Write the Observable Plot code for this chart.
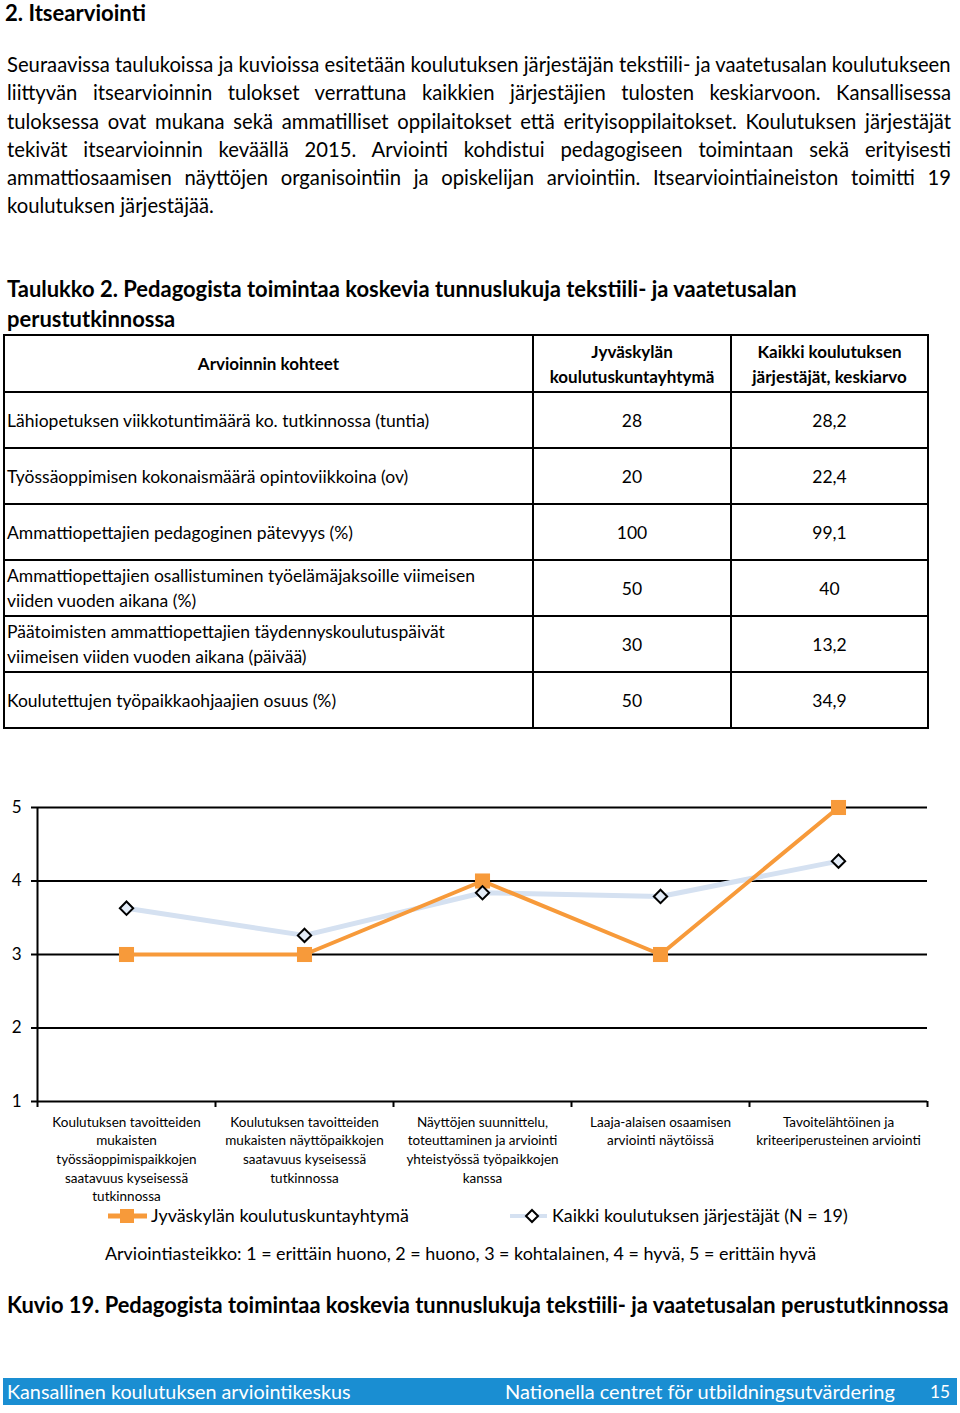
<!DOCTYPE html>
<html><head><meta charset="utf-8">
<script src="https://cdn.jsdelivr.net/npm/d3@7"></script>
<script src="https://cdn.jsdelivr.net/npm/@observablehq/plot@0.6"></script>
<style>
body{margin:0;background:#fff;}
#page{position:relative;width:960px;height:1413px;font-family:Lato,"Open Sans",sans-serif;color:#000;overflow:hidden;background:#fff;}
.t{position:absolute;white-space:nowrap;}
table{position:absolute;left:3px;top:334px;width:924px;border-collapse:collapse;table-layout:fixed;font-size:17.5px;}
td{border:2px solid #000;padding:0 2px;line-height:25px;vertical-align:middle;}
td.c{text-align:center;}
th{border:2px solid #000;font-weight:bold;text-align:center;line-height:25px;font-size:17px;}
#chart{position:absolute;left:0;top:790px;}
#footer{position:absolute;left:3px;top:1378px;width:954px;height:27px;background:#1a8ed2;}
</style></head><body><div id="page"></div>
<script>
// ---------- data ----------
const heading = "2. Itsearviointi";
const paragraphLines = [
  "Seuraavissa taulukoissa ja kuvioissa esitetään koulutuksen järjestäjän tekstiili- ja vaatetusalan koulutukseen",
  "liittyvän itsearvioinnin tulokset verrattuna kaikkien järjestäjien tulosten keskiarvoon. Kansallisessa",
  "tuloksessa ovat mukana sekä ammatilliset oppilaitokset että erityisoppilaitokset. Koulutuksen järjestäjät",
  "tekivät itsearvioinnin keväällä 2015. Arviointi kohdistui pedagogiseen toimintaan sekä erityisesti",
  "ammattiosaamisen näyttöjen organisointiin ja opiskelijan arviointiin. Itsearviointiaineiston toimitti 19",
  "koulutuksen järjestäjää."
];
const tableTitleLines = ["Taulukko 2. Pedagogista toimintaa koskevia tunnuslukuja tekstiili- ja vaatetusalan", "perustutkinnossa"];
const tableHeader = ["Arvioinnin kohteet", "Jyväskylän\nkoulutuskuntayhtymä", "Kaikki koulutuksen\njärjestäjät, keskiarvo"];
const tableItems = [
  "Lähiopetuksen viikkotuntimäärä ko. tutkinnossa (tuntia)",
  "Työssäoppimisen kokonaismäärä opintoviikkoina (ov)",
  "Ammattiopettajien pedagoginen pätevyys (%)",
  "Ammattiopettajien osallistuminen työelämäjaksoille viimeisen\nviiden vuoden aikana (%)",
  "Päätoimisten ammattiopettajien täydennyskoulutuspäivät\nviimeisen viiden vuoden aikana (päivää)",
  "Koulutettujen työpaikkaohjaajien osuus (%)"
];
const tableJyvaskyla = ["28", "20", "100", "50", "30", "50"];
const tableKaikki = ["28,2", "22,4", "99,1", "40", "13,2", "34,9"];

const categories = [
  "Koulutuksen tavoitteiden\nmukaisten\ntyössäoppimispaikkojen\nsaatavuus kyseisessä\ntutkinnossa",
  "Koulutuksen tavoitteiden\nmukaisten näyttöpaikkojen\nsaatavuus kyseisessä\ntutkinnossa",
  "Näyttöjen suunnittelu,\ntoteuttaminen ja arviointi\nyhteistyössä työpaikkojen\nkanssa",
  "Laaja-alaisen osaamisen\narviointi näytöissä",
  "Tavoitelähtöinen ja\nkriteeriperusteinen arviointi"
];
const jyvaskyla = [3, 3, 4, 3, 5];
const kaikki = [3.63, 3.26, 3.84, 3.79, 4.27];
const yTicks = [1, 2, 3, 4, 5];
const seriesNames = ["Jyväskylän koulutuskuntayhtymä", "Kaikki koulutuksen järjestäjät (N = 19)"];
const scaleNote = "Arviointiasteikko: 1 = erittäin huono, 2 = huono, 3 = kohtalainen, 4 = hyvä, 5 = erittäin hyvä";
const caption = "Kuvio 19. Pedagogista toimintaa koskevia tunnuslukuja tekstiili- ja vaatetusalan perustutkinnossa";
const footerTexts = ["Kansallinen koulutuksen arviointikeskus", "Nationella centret för utbildningsutvärdering", "15"];

const ORANGE = "#f79a3a", LIGHTBLUE = "#d5e1f1", DIAMONDFILL = "#e3ecf7";

// ---------- helpers ----------
const page = document.getElementById("page");
function setSize(el, yc, size) {
  const lh = Math.round(size * 1.2);
  el.style.fontSize = size + "px";
  el.style.lineHeight = lh + "px";
  el.style.top = (yc - lh / 2) + "px";
}
// place a single line; if w is given, the font size is scaled so the line is w px wide
function place(text, x, yc, size, opts = {}) {
  const el = document.createElement("div");
  el.className = "t";
  el.textContent = text;
  el.style.left = x + "px";
  if (opts.bold) el.style.fontWeight = "bold";
  if (opts.color) el.style.color = opts.color;
  setSize(el, yc, size);
  (opts.parent || page).appendChild(el);
  if (opts.w) {
    const W = el.getBoundingClientRect().width;
    setSize(el, yc, size * opts.w / W);
  }
  return el;
}
function justify(el, w) {
  const W = el.getBoundingClientRect().width;
  const spaces = (el.textContent.match(/ /g) || []).length;
  if (spaces > 0) el.style.wordSpacing = ((w - W) / spaces) + "px";
}

// ---------- text blocks ----------
place(heading, 5, 12.5, 20, {bold: true, w: 141});
const pY = [64, 92.3, 120.6, 149, 177, 205];
const first = place(paragraphLines[0], 7, pY[0], 19, {w: 944});
const pSize = parseFloat(first.style.fontSize);
paragraphLines.slice(1).forEach((l, k) => {
  const i = k + 1;
  const el = place(l, 7, pY[i], pSize);
  if (i < paragraphLines.length - 1) justify(el, 944);
});
const tt = place(tableTitleLines[0], 7, 289, 21, {bold: true, w: 790});
place(tableTitleLines[1], 7, 319, parseFloat(tt.style.fontSize), {bold: true});

// ---------- table ----------
const tbl = document.createElement("table");
const cg = document.createElement("colgroup");
[529, 198, 197].forEach(w => { const c = document.createElement("col"); c.style.width = w + "px"; cg.appendChild(c); });
tbl.appendChild(cg);
const hr = document.createElement("tr"); hr.style.height = "57px";
tableHeader.forEach(h => { const th = document.createElement("th"); th.innerHTML = h.replace("\n", "<br>"); hr.appendChild(th); });
tbl.appendChild(hr);
tableItems.forEach((it, i) => {
  const tr = document.createElement("tr"); tr.style.height = "56px";
  const a = document.createElement("td"); a.innerHTML = it.replace("\n", "<br>");
  const b = document.createElement("td"); b.className = "c"; b.textContent = tableJyvaskyla[i];
  const c = document.createElement("td"); c.className = "c"; c.textContent = tableKaikki[i];
  tr.append(a, b, c); tbl.appendChild(tr);
});
page.appendChild(tbl);

// ---------- chart ----------
const jyData = jyvaskyla.map((v, i) => ({i: i + 0.5, v}));
const avgData = kaikki.map((v, i) => ({i: i + 0.5, v}));
const labelData = categories.map((c, i) => ({i: i + 0.5, c}));
const chart = Plot.plot({
  width: 960, height: 421,
  marginLeft: 37, marginRight: 33, marginTop: 17, marginBottom: 110,
  x: {domain: [0, categories.length], axis: null},
  y: {domain: [1, 5], axis: null},
  style: {fontFamily: "Lato, sans-serif", background: "transparent", color: "#000", overflow: "visible"},
  marks: [
    Plot.ruleY(yTicks, {stroke: "#000", strokeWidth: 2}),
    Plot.ruleX([0], {stroke: "#000", strokeWidth: 2}),
    Plot.axisY({ticks: yTicks, tickSize: 6, tickPadding: 10, fontSize: 17, strokeWidth: 2, tickFormat: d => d, label: null}),
    Plot.axisX({ticks: d3.range(categories.length + 1), tickSize: 6, strokeWidth: 2, tickFormat: () => "", label: null}),
    Plot.line(avgData, {x: "i", y: "v", stroke: LIGHTBLUE, strokeWidth: 5}),
    Plot.line(jyData, {x: "i", y: "v", stroke: ORANGE, strokeWidth: 4}),
    Plot.dot(jyData, {x: "i", y: "v", symbol: "square", fill: ORANGE, r: 8.5}),
    Plot.dot(avgData, {x: "i", y: "v", symbol: "diamond2", fill: DIAMONDFILL, stroke: "#000", strokeWidth: 2, r: 6}),
    Plot.text(labelData, {x: "i", y: () => 1, text: "c", lineAnchor: "top", dy: 12, fontSize: 13.5, lineHeight: 1.38, fill: "#000"})
  ]
});
chart.id = "chart";
page.appendChild(chart);

// ---------- legend ----------
const ns = "http://www.w3.org/2000/svg";
const lg = document.createElementNS(ns, "svg");
lg.setAttribute("width", 960); lg.setAttribute("height", 30);
lg.style.position = "absolute"; lg.style.left = "0px"; lg.style.top = "1200px";
lg.innerHTML =
  `<line x1="108" x2="147" y1="16" y2="16" stroke="${ORANGE}" stroke-width="5"/>` +
  `<rect x="120" y="9" width="14" height="14" fill="${ORANGE}"/>` +
  `<line x1="510" x2="547" y1="16" y2="16" stroke="${LIGHTBLUE}" stroke-width="4"/>` +
  `<path d="M532,10 L538,16 L532,22 L526,16 Z" fill="#fff" stroke="#000" stroke-width="2"/>`;
page.appendChild(lg);
place(seriesNames[0], 151, 1215, 17.5, {w: 258});
place(seriesNames[1], 552, 1215, 17.5, {w: 296});
place(scaleNote, 105, 1253, 17.5, {w: 712});
place(caption, 7, 1305, 21, {bold: true, w: 942});

// ---------- footer ----------
const ft = document.createElement("div"); ft.id = "footer"; page.appendChild(ft);
place(footerTexts[0], 7, 1391, 19, {color: "#fff", w: 344});
place(footerTexts[1], 505, 1391, 19, {color: "#fff", w: 390});
place(footerTexts[2], 930, 1391, 19, {color: "#fff", w: 20});
</script></body></html>
